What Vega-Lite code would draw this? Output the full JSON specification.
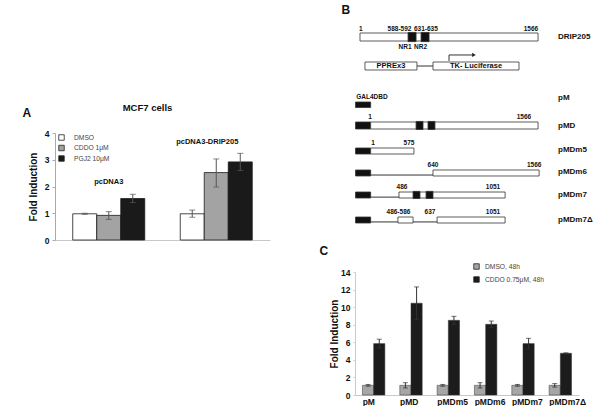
{
  "$schema": "https://vega.github.io/schema/vega-lite/v6.json",
  "padding": {"left": 22, "top": 0, "right": 0, "bottom": 0},
  "spacing": 49,
  "resolve": {"scale": {"fill": "independent", "xOffset": "independent"}, "legend": {"fill": "independent"}},
  "config": {
    "view": {"stroke": null},
    "font": "Liberation Sans",
    "axis": {"labelFont": "Liberation Sans", "titleFont": "Liberation Sans", "labelOverlap": false},
    "legend": {"labelFont": "Liberation Sans"},
    "title": {"font": "Liberation Sans"},
    "text": {"font": "Liberation Sans"}
  },
  "datasets": {
    "panelA": [
      {"group": "pcDNA3", "treatment": "DMSO", "value": 0.98, "lo": 0.96, "hi": 1.0},
      {"group": "pcDNA3", "treatment": "CDDO 1μM", "value": 0.92, "lo": 0.77, "hi": 1.06},
      {"group": "pcDNA3", "treatment": "PGJ2 10μM", "value": 1.55, "lo": 1.4, "hi": 1.71},
      {"group": "pcDNA3-DRIP205", "treatment": "DMSO", "value": 0.98, "lo": 0.85, "hi": 1.12},
      {"group": "pcDNA3-DRIP205", "treatment": "CDDO 1μM", "value": 2.52, "lo": 1.98, "hi": 3.03},
      {"group": "pcDNA3-DRIP205", "treatment": "PGJ2 10μM", "value": 2.92, "lo": 2.6, "hi": 3.24}
    ],
    "panelC": [
      {"construct": "pM", "treatment": "DMSO, 48h", "value": 1.1, "lo": 1.0, "hi": 1.2},
      {"construct": "pM", "treatment": "CDDO 0.75μM, 48h", "value": 5.85, "lo": 5.35, "hi": 6.35},
      {"construct": "pMD", "treatment": "DMSO, 48h", "value": 1.1, "lo": 0.8, "hi": 1.4},
      {"construct": "pMD", "treatment": "CDDO 0.75μM, 48h", "value": 10.45, "lo": 8.6, "hi": 12.3},
      {"construct": "pMDm5", "treatment": "DMSO, 48h", "value": 1.1, "lo": 1.0, "hi": 1.2},
      {"construct": "pMDm5", "treatment": "CDDO 0.75μM, 48h", "value": 8.5, "lo": 8.05, "hi": 8.95},
      {"construct": "pMDm6", "treatment": "DMSO, 48h", "value": 1.1, "lo": 0.8, "hi": 1.4},
      {"construct": "pMDm6", "treatment": "CDDO 0.75μM, 48h", "value": 8.05, "lo": 7.7, "hi": 8.42},
      {"construct": "pMDm7", "treatment": "DMSO, 48h", "value": 1.1, "lo": 1.0, "hi": 1.2},
      {"construct": "pMDm7", "treatment": "CDDO 0.75μM, 48h", "value": 5.85, "lo": 5.25, "hi": 6.45},
      {"construct": "pMDm7Δ", "treatment": "DMSO, 48h", "value": 1.1, "lo": 0.9, "hi": 1.3},
      {"construct": "pMDm7Δ", "treatment": "CDDO 0.75μM, 48h", "value": 4.75, "lo": 4.7, "hi": 4.8}
    ],
    "bRects": [
      {"construct": "DRIP205", "part": "protein", "x1": 0, "x2": 100, "y1": 1.435, "y2": 1.783},
      {"construct": "reporter", "part": "reporter", "x1": 2.8, "x2": 32.0, "y1": 2.696, "y2": 3.043},
      {"construct": "reporter", "part": "reporter", "x1": 41.0, "x2": 89.3, "y1": 2.696, "y2": 3.043},
      {"construct": "pM", "part": "GAL4DBD", "x1": -2.5, "x2": 6.0, "y1": 4.435, "y2": 4.674},
      {"construct": "pMD", "part": "GAL4DBD", "x1": -2.5, "x2": 6.0, "y1": 5.304, "y2": 5.609},
      {"construct": "pMD", "part": "protein", "x1": 6.0, "x2": 100, "y1": 5.304, "y2": 5.609},
      {"construct": "pMDm5", "part": "GAL4DBD", "x1": -2.5, "x2": 6.0, "y1": 6.435, "y2": 6.696},
      {"construct": "pMDm5", "part": "protein", "x1": 6.0, "x2": 30.3, "y1": 6.435, "y2": 6.696},
      {"construct": "pMDm6", "part": "GAL4DBD", "x1": -2.5, "x2": 6.0, "y1": 7.391, "y2": 7.652},
      {"construct": "pMDm6", "part": "protein", "x1": 41.0, "x2": 100.6, "y1": 7.391, "y2": 7.652},
      {"construct": "pMDm7", "part": "GAL4DBD", "x1": -2.5, "x2": 6.0, "y1": 8.348, "y2": 8.609},
      {"construct": "pMDm7", "part": "protein", "x1": 21.9, "x2": 81.5, "y1": 8.348, "y2": 8.609},
      {"construct": "pMDm7Δ", "part": "GAL4DBD", "x1": -2.5, "x2": 6.0, "y1": 9.435, "y2": 9.696},
      {"construct": "pMDm7Δ", "part": "protein", "x1": 21.3, "x2": 29.8, "y1": 9.435, "y2": 9.696},
      {"construct": "pMDm7Δ", "part": "protein", "x1": 43.3, "x2": 81.5, "y1": 9.435, "y2": 9.696},
      {"construct": "DRIP205", "part": "NR box", "x1": 27.0, "x2": 31.5, "y1": 1.41, "y2": 1.81},
      {"construct": "DRIP205", "part": "NR box", "x1": 34.3, "x2": 38.8, "y1": 1.41, "y2": 1.81},
      {"construct": "pMD", "part": "NR box", "x1": 31.5, "x2": 35.4, "y1": 5.28, "y2": 5.63},
      {"construct": "pMD", "part": "NR box", "x1": 38.2, "x2": 42.1, "y1": 5.28, "y2": 5.63},
      {"construct": "pMDm7", "part": "NR box", "x1": 29.8, "x2": 33.7, "y1": 8.32, "y2": 8.63},
      {"construct": "pMDm7", "part": "NR box", "x1": 37.1, "x2": 41.0, "y1": 8.32, "y2": 8.63}
    ],
    "bLines": [
      {"x1": 32.0, "x2": 41.0, "y1": 2.87, "y2": 2.87},
      {"x1": 50.0, "x2": 50.0, "y1": 2.65, "y2": 2.39},
      {"x1": 50.0, "x2": 63.0, "y1": 2.39, "y2": 2.39},
      {"x1": 6.0, "x2": 41.0, "y1": 7.61, "y2": 7.61},
      {"x1": 6.0, "x2": 21.9, "y1": 8.57, "y2": 8.57},
      {"x1": 6.0, "x2": 21.3, "y1": 9.65, "y2": 9.65},
      {"x1": 29.8, "x2": 43.3, "y1": 9.65, "y2": 9.65}
    ],
    "bArrow": [{"x": 64.0, "y": 2.39}],
    "bNums": [
      {"label": "1", "x": 0.5, "y": 1.26},
      {"label": "588-592", "x": 22.2, "y": 1.26},
      {"label": "631-635", "x": 37.0, "y": 1.26},
      {"label": "1566", "x": 96.0, "y": 1.26},
      {"label": "NR1", "x": 25.3, "y": 2.04},
      {"label": "NR2", "x": 34.0, "y": 2.04},
      {"label": "GAL4DBD", "x": 6.7, "y": 4.22},
      {"label": "1", "x": 5.6, "y": 5.09},
      {"label": "1566", "x": 92.1, "y": 5.09},
      {"label": "1", "x": 7.3, "y": 6.22},
      {"label": "575", "x": 27.5, "y": 6.22},
      {"label": "640", "x": 41.0, "y": 7.17},
      {"label": "1566", "x": 97.8, "y": 7.17},
      {"label": "486", "x": 23.6, "y": 8.13},
      {"label": "1051", "x": 74.7, "y": 8.13},
      {"label": "486-586", "x": 21.6, "y": 9.22},
      {"label": "637", "x": 39.3, "y": 9.22},
      {"label": "1051", "x": 74.7, "y": 9.22}
    ],
    "bBoxLabels": [
      {"label": "PPREx3", "x": 17.4, "y": 2.87},
      {"label": "TK- Luciferase", "x": 65.2, "y": 2.87}
    ],
    "bNames": [
      {"label": "DRIP205", "x": 111.2, "y": 1.61},
      {"label": "pM", "x": 111.2, "y": 4.26},
      {"label": "pMD", "x": 111.2, "y": 5.48},
      {"label": "pMDm5", "x": 111.2, "y": 6.52},
      {"label": "pMDm6", "x": 111.2, "y": 7.48},
      {"label": "pMDm7", "x": 111.2, "y": 8.48},
      {"label": "pMDm7Δ", "x": 111.2, "y": 9.57}
    ]
  },
  "hconcat": [
    {
      "spacing": 0,
      "resolve": {"scale": {"fill": "independent", "xOffset": "independent"}, "legend": {"fill": "independent"}},
      "vconcat": [
        {"width": 215, "height": 103, "data": {"values": []}, "mark": "point", "encoding": {}},
        {
          "width": 215,
          "height": 107,
          "title": {"text": "MCF7 cells", "fontSize": 9.5, "fontWeight": "bold", "anchor": "middle", "dx": -15, "dy": 8, "offset": 2, "color": "#111"},
          "data": {"name": "panelA"},
          "layer": [
            {
              "mark": {"type": "bar", "stroke": "#1a1a1a", "strokeWidth": 0.8},
              "encoding": {
                "x": {"field": "group", "type": "nominal", "sort": null, "scale": {"paddingInner": 0.33, "paddingOuter": 0.165}, "axis": {"title": null, "labels": false, "ticks": false, "domainColor": "#c8c8c8"}},
                "xOffset": {"field": "treatment", "type": "nominal", "scale": {"domain": ["DMSO", "CDDO 1μM", "PGJ2 10μM"], "paddingInner": 0, "paddingOuter": 0}},
                "y": {"field": "value", "type": "quantitative", "scale": {"domain": [0, 4], "nice": false}, "axis": {"title": "Fold Induction", "values": [0, 1, 2, 3, 4], "grid": false, "labelOverlap": false, "domainColor": "#aaa", "tickColor": "#aaa", "tickSize": 3, "labelFontSize": 8.5, "labelFontWeight": "bold", "labelColor": "#111", "labelPadding": 3, "titleFontSize": 10, "titleFontWeight": "bold", "titlePadding": 6, "titleColor": "#111"}},
                "fill": {"field": "treatment", "type": "nominal", "scale": {"domain": ["DMSO", "CDDO 1μM", "PGJ2 10μM"], "range": ["#ffffff", "#a3a3a3", "#1a1a1a"]}, "legend": {"orient": "none", "legendX": 3, "legendY": 1, "title": null, "symbolType": "square", "symbolSize": 30, "symbolStrokeColor": "#222", "symbolStrokeWidth": 0.8, "symbolOpacity": 1, "labelFontSize": 6.7, "labelColor": "#444", "labelOffset": 9, "rowPadding": 1.5}}
              }
            },
            {
              "mark": {"type": "rule", "color": "#555", "strokeWidth": 1},
              "encoding": {
                "x": {"field": "group", "type": "nominal", "sort": null},
                "xOffset": {"field": "treatment", "type": "nominal"},
                "y": {"field": "lo", "type": "quantitative", "scale": {"domain": [0, 4], "nice": false}, "axis": {"title": "Fold Induction", "values": [0, 1, 2, 3, 4], "grid": false, "labelOverlap": false, "domainColor": "#aaa", "tickColor": "#aaa", "tickSize": 3, "labelFontSize": 8.5, "labelFontWeight": "bold", "labelColor": "#111", "labelPadding": 3, "titleFontSize": 10, "titleFontWeight": "bold", "titlePadding": 6, "titleColor": "#111"}},
                "y2": {"field": "hi"}
              }
            },
            {
              "mark": {"type": "tick", "color": "#555", "size": 6, "thickness": 1},
              "encoding": {
                "x": {"field": "group", "type": "nominal", "sort": null},
                "xOffset": {"field": "treatment", "type": "nominal"},
                "y": {"field": "lo", "type": "quantitative", "scale": {"domain": [0, 4], "nice": false}, "axis": {"title": "Fold Induction", "values": [0, 1, 2, 3, 4], "grid": false, "labelOverlap": false, "domainColor": "#aaa", "tickColor": "#aaa", "tickSize": 3, "labelFontSize": 8.5, "labelFontWeight": "bold", "labelColor": "#111", "labelPadding": 3, "titleFontSize": 10, "titleFontWeight": "bold", "titlePadding": 6, "titleColor": "#111"}}
              }
            },
            {
              "mark": {"type": "tick", "color": "#555", "size": 6, "thickness": 1},
              "encoding": {
                "x": {"field": "group", "type": "nominal", "sort": null},
                "xOffset": {"field": "treatment", "type": "nominal"},
                "y": {"field": "hi", "type": "quantitative", "scale": {"domain": [0, 4], "nice": false}, "axis": {"title": "Fold Induction", "values": [0, 1, 2, 3, 4], "grid": false, "labelOverlap": false, "domainColor": "#aaa", "tickColor": "#aaa", "tickSize": 3, "labelFontSize": 8.5, "labelFontWeight": "bold", "labelColor": "#111", "labelPadding": 3, "titleFontSize": 10, "titleFontWeight": "bold", "titlePadding": 6, "titleColor": "#111"}}
              }
            },
            {
              "data": {"values": [{}]},
              "mark": {"type": "text", "text": "pcDNA3", "fontSize": 7.5, "fontWeight": "bold", "color": "#111", "baseline": "middle"},
              "encoding": {"x": {"datum": "pcDNA3"}, "y": {"datum": 2.17, "type": "quantitative", "scale": {"domain": [0, 4], "nice": false}, "axis": {"title": "Fold Induction", "values": [0, 1, 2, 3, 4], "grid": false, "labelOverlap": false, "domainColor": "#aaa", "tickColor": "#aaa", "tickSize": 3, "labelFontSize": 8.5, "labelFontWeight": "bold", "labelColor": "#111", "labelPadding": 3, "titleFontSize": 10, "titleFontWeight": "bold", "titlePadding": 6, "titleColor": "#111"}}}
            },
            {
              "data": {"values": [{}]},
              "mark": {"type": "text", "text": "pcDNA3-DRIP205", "fontSize": 7.5, "fontWeight": "bold", "color": "#111", "baseline": "middle", "dx": -9},
              "encoding": {"x": {"datum": "pcDNA3-DRIP205"}, "y": {"datum": 3.68, "type": "quantitative", "scale": {"domain": [0, 4], "nice": false}, "axis": {"title": "Fold Induction", "values": [0, 1, 2, 3, 4], "grid": false, "labelOverlap": false, "domainColor": "#aaa", "tickColor": "#aaa", "tickSize": 3, "labelFontSize": 8.5, "labelFontWeight": "bold", "labelColor": "#111", "labelPadding": 3, "titleFontSize": 10, "titleFontWeight": "bold", "titlePadding": 6, "titleColor": "#111"}}}
            },
            {
              "data": {"values": [{}]},
              "mark": {"type": "text", "text": "A", "fontSize": 12, "fontWeight": "bold", "color": "#111", "baseline": "middle", "dx": -82},
              "encoding": {"x": {"datum": "pcDNA3"}, "y": {"datum": 4.75, "type": "quantitative", "scale": {"domain": [0, 4], "nice": false}, "axis": {"title": "Fold Induction", "values": [0, 1, 2, 3, 4], "grid": false, "labelOverlap": false, "domainColor": "#aaa", "tickColor": "#aaa", "tickSize": 3, "labelFontSize": 8.5, "labelFontWeight": "bold", "labelColor": "#111", "labelPadding": 3, "titleFontSize": 10, "titleFontWeight": "bold", "titlePadding": 6, "titleColor": "#111"}}}
            }
          ]
        }
      ]
    },
    {
      "spacing": 15,
      "resolve": {"scale": {"fill": "independent", "xOffset": "independent"}, "legend": {"fill": "independent"}},
      "vconcat": [
        {
          "width": 237,
          "height": 230,
          "layer": [
            {
              "data": {"name": "bLines"},
              "mark": {"type": "rule", "color": "#333", "strokeWidth": 1},
              "encoding": {
                "x": {"field": "x1", "type": "quantitative", "scale": {"domain": [-2.8, 130.3], "nice": false, "zero": false}, "axis": null},
                "x2": {"field": "x2"},
                "y": {"field": "y1", "type": "quantitative", "scale": {"domain": [0, 10], "reverse": true, "nice": false, "zero": false}, "axis": null},
                "y2": {"field": "y2"}
              }
            },
            {
              "data": {"name": "bRects"},
              "mark": {"type": "rect", "stroke": "#333", "strokeWidth": 0.8},
              "encoding": {
                "x": {"field": "x1", "type": "quantitative", "scale": {"domain": [-2.8, 130.3], "nice": false, "zero": false}, "axis": null},
                "x2": {"field": "x2"},
                "y": {"field": "y1", "type": "quantitative", "scale": {"domain": [0, 10], "reverse": true, "nice": false, "zero": false}, "axis": null},
                "y2": {"field": "y2"},
                "fill": {"field": "part", "type": "nominal", "scale": {"domain": ["protein", "reporter", "NR box", "GAL4DBD"], "range": ["#ffffff", "#ffffff", "#111111", "#111111"]}, "legend": null}
              }
            },
            {
              "data": {"name": "bArrow"},
              "mark": {"type": "point", "shape": "triangle-right", "filled": true, "color": "#222", "size": 18, "opacity": 1},
              "encoding": {
                "x": {"field": "x", "type": "quantitative", "scale": {"domain": [-2.8, 130.3], "nice": false, "zero": false}, "axis": null},
                "y": {"field": "y", "type": "quantitative", "scale": {"domain": [0, 10], "reverse": true, "nice": false, "zero": false}, "axis": null}
              }
            },
            {
              "data": {"name": "bNums"},
              "mark": {"type": "text", "fontSize": 6.5, "fontWeight": "bold", "color": "#111", "baseline": "middle", "align": "center"},
              "encoding": {
                "x": {"field": "x", "type": "quantitative", "scale": {"domain": [-2.8, 130.3], "nice": false, "zero": false}, "axis": null},
                "y": {"field": "y", "type": "quantitative", "scale": {"domain": [0, 10], "reverse": true, "nice": false, "zero": false}, "axis": null},
                "text": {"field": "label"}
              }
            },
            {
              "data": {"name": "bBoxLabels"},
              "mark": {"type": "text", "fontSize": 7.5, "fontWeight": "bold", "color": "#111", "baseline": "middle", "align": "center"},
              "encoding": {
                "x": {"field": "x", "type": "quantitative", "scale": {"domain": [-2.8, 130.3], "nice": false, "zero": false}, "axis": null},
                "y": {"field": "y", "type": "quantitative", "scale": {"domain": [0, 10], "reverse": true, "nice": false, "zero": false}, "axis": null},
                "text": {"field": "label"}
              }
            },
            {
              "data": {"name": "bNames"},
              "mark": {"type": "text", "fontSize": 8, "fontWeight": "bold", "color": "#111", "baseline": "middle", "align": "left"},
              "encoding": {
                "x": {"field": "x", "type": "quantitative", "scale": {"domain": [-2.8, 130.3], "nice": false, "zero": false}, "axis": null},
                "y": {"field": "y", "type": "quantitative", "scale": {"domain": [0, 10], "reverse": true, "nice": false, "zero": false}, "axis": null},
                "text": {"field": "label"}
              }
            },
            {
              "data": {"values": [{}]},
              "mark": {"type": "text", "text": "B", "fontSize": 12, "fontWeight": "bold", "color": "#111", "baseline": "middle", "align": "center"},
              "encoding": {
                "x": {"datum": -7.9, "type": "quantitative", "scale": {"domain": [-2.8, 130.3], "nice": false, "zero": false}, "axis": null},
                "y": {"datum": 0.435, "type": "quantitative", "scale": {"domain": [0, 10], "reverse": true, "nice": false, "zero": false}, "axis": null}
              }
            }
          ]
        },
        {
          "width": 224,
          "height": 123,
          "title": {"text": "C", "fontSize": 12, "fontWeight": "bold", "anchor": "start", "frame": "bounds", "dx": -10, "offset": 5, "color": "#111"},
          "data": {"name": "panelC"},
          "layer": [
            {
              "mark": {"type": "bar", "stroke": "#333", "strokeWidth": 0.5},
              "encoding": {
                "x": {"field": "construct", "type": "nominal", "sort": null, "scale": {"paddingInner": 0.4, "paddingOuter": 0.2}, "axis": {"title": null, "ticks": false, "labelAngle": 0, "labelAlign": "left", "labelOffset": -11, "labelFontSize": 8.5, "labelFontWeight": "bold", "labelColor": "#111", "labelPadding": 2, "domainColor": "#c8c8c8"}},
                "xOffset": {"field": "treatment", "type": "nominal", "scale": {"domain": ["DMSO, 48h", "CDDO 0.75μM, 48h"], "paddingInner": 0, "paddingOuter": 0}},
                "y": {"field": "value", "type": "quantitative", "scale": {"domain": [0, 14], "nice": false}, "axis": {"title": "Fold Induction", "values": [0, 2, 4, 6, 8, 10, 12, 14], "grid": false, "labelOverlap": false, "domainColor": "#ccc", "tickColor": "#ccc", "tickSize": 2, "labelFontSize": 8.5, "labelFontWeight": "bold", "labelColor": "#111", "labelPadding": 3, "titleFontSize": 10, "titleFontWeight": "bold", "titlePadding": 1, "titleColor": "#111"}},
                "fill": {"field": "treatment", "type": "nominal", "scale": {"domain": ["DMSO, 48h", "CDDO 0.75μM, 48h"], "range": ["#a6a6a6", "#1c1c1c"]}, "legend": {"orient": "none", "legendX": 118, "legendY": -9, "title": null, "symbolType": "square", "symbolSize": 30, "symbolStrokeColor": "#222", "symbolStrokeWidth": 0.8, "symbolOpacity": 1, "labelFontSize": 6.7, "labelColor": "#444", "labelOffset": 5, "rowPadding": 4}}
              }
            },
            {
              "mark": {"type": "rule", "color": "#333", "strokeWidth": 1},
              "encoding": {
                "x": {"field": "construct", "type": "nominal", "sort": null},
                "xOffset": {"field": "treatment", "type": "nominal"},
                "y": {"field": "lo", "type": "quantitative", "scale": {"domain": [0, 14], "nice": false}, "axis": {"title": "Fold Induction", "values": [0, 2, 4, 6, 8, 10, 12, 14], "grid": false, "labelOverlap": false, "domainColor": "#ccc", "tickColor": "#ccc", "tickSize": 2, "labelFontSize": 8.5, "labelFontWeight": "bold", "labelColor": "#111", "labelPadding": 3, "titleFontSize": 10, "titleFontWeight": "bold", "titlePadding": 1, "titleColor": "#111"}},
                "y2": {"field": "hi"}
              }
            },
            {
              "mark": {"type": "tick", "color": "#333", "size": 5, "thickness": 1},
              "encoding": {
                "x": {"field": "construct", "type": "nominal", "sort": null},
                "xOffset": {"field": "treatment", "type": "nominal"},
                "y": {"field": "lo", "type": "quantitative", "scale": {"domain": [0, 14], "nice": false}, "axis": {"title": "Fold Induction", "values": [0, 2, 4, 6, 8, 10, 12, 14], "grid": false, "labelOverlap": false, "domainColor": "#ccc", "tickColor": "#ccc", "tickSize": 2, "labelFontSize": 8.5, "labelFontWeight": "bold", "labelColor": "#111", "labelPadding": 3, "titleFontSize": 10, "titleFontWeight": "bold", "titlePadding": 1, "titleColor": "#111"}}
              }
            },
            {
              "mark": {"type": "tick", "color": "#333", "size": 5, "thickness": 1},
              "encoding": {
                "x": {"field": "construct", "type": "nominal", "sort": null},
                "xOffset": {"field": "treatment", "type": "nominal"},
                "y": {"field": "hi", "type": "quantitative", "scale": {"domain": [0, 14], "nice": false}, "axis": {"title": "Fold Induction", "values": [0, 2, 4, 6, 8, 10, 12, 14], "grid": false, "labelOverlap": false, "domainColor": "#ccc", "tickColor": "#ccc", "tickSize": 2, "labelFontSize": 8.5, "labelFontWeight": "bold", "labelColor": "#111", "labelPadding": 3, "titleFontSize": 10, "titleFontWeight": "bold", "titlePadding": 1, "titleColor": "#111"}}
              }
            }
          ]
        }
      ]
    }
  ]
}
